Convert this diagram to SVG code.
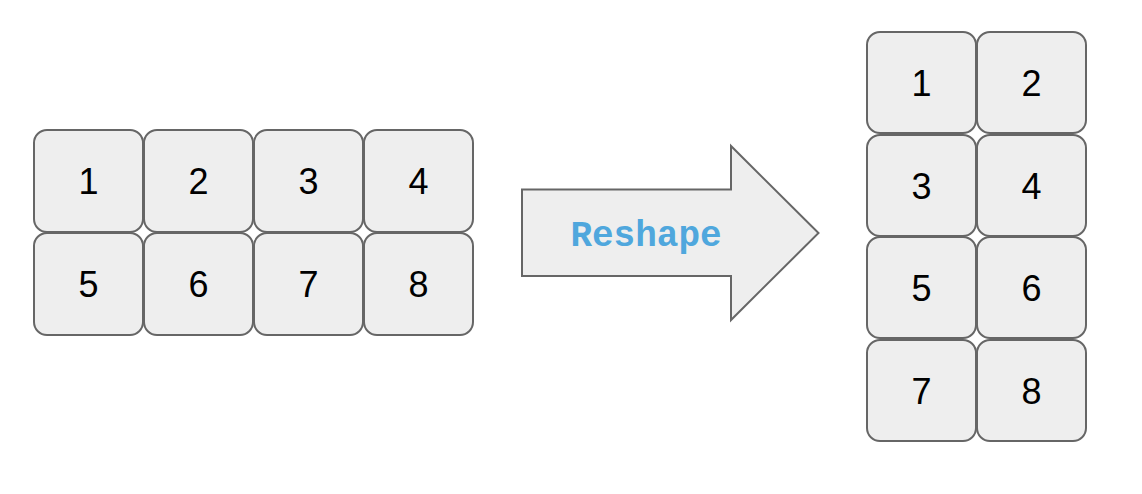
<svg xmlns="http://www.w3.org/2000/svg" width="1142" height="494" viewBox="0 0 1142 494">
<style>
.c{fill:#eeeeee;stroke:#666666;stroke-width:2}
.n{font-family:"Liberation Sans",Arial,sans-serif;font-size:36px;fill:#000;text-anchor:middle}
.lbl{font-family:"Liberation Mono","Courier New",monospace;font-size:36px;font-weight:bold;fill:#4fa7dd;text-anchor:middle}
</style>
<rect width="1142" height="494" fill="#ffffff"/>
<g id="left-grid">
<g id="l1"><rect class="c" x="34" y="130" width="109" height="102" rx="13"/><text class="n" x="88.5" y="194">1</text></g>
<g id="l2"><rect class="c" x="144" y="130" width="109" height="102" rx="13"/><text class="n" x="198.5" y="194">2</text></g>
<g id="l3"><rect class="c" x="254" y="130" width="109" height="102" rx="13"/><text class="n" x="308.5" y="194">3</text></g>
<g id="l4"><rect class="c" x="364" y="130" width="109" height="102" rx="13"/><text class="n" x="418.5" y="194">4</text></g>
<g id="l5"><rect class="c" x="34" y="233" width="109" height="102" rx="13"/><text class="n" x="88.5" y="297">5</text></g>
<g id="l6"><rect class="c" x="144" y="233" width="109" height="102" rx="13"/><text class="n" x="198.5" y="297">6</text></g>
<g id="l7"><rect class="c" x="254" y="233" width="109" height="102" rx="13"/><text class="n" x="308.5" y="297">7</text></g>
<g id="l8"><rect class="c" x="364" y="233" width="109" height="102" rx="13"/><text class="n" x="418.5" y="297">8</text></g>
</g>
<g id="arrow">
<polygon class="c" points="522,189.5 731,189.5 731,146 818.5,233 731,320 731,276 522,276"/>
<text class="lbl" x="646" y="246">Reshape</text>
</g>
<g id="right-grid">
<g id="r1"><rect class="c" x="867" y="32" width="109" height="101" rx="13"/><text class="n" x="921.5" y="96">1</text></g>
<g id="r2"><rect class="c" x="977" y="32" width="109" height="101" rx="13"/><text class="n" x="1031.5" y="96">2</text></g>
<g id="r3"><rect class="c" x="867" y="135" width="109" height="101" rx="13"/><text class="n" x="921.5" y="199">3</text></g>
<g id="r4"><rect class="c" x="977" y="135" width="109" height="101" rx="13"/><text class="n" x="1031.5" y="199">4</text></g>
<g id="r5"><rect class="c" x="867" y="237" width="109" height="101" rx="13"/><text class="n" x="921.5" y="301">5</text></g>
<g id="r6"><rect class="c" x="977" y="237" width="109" height="101" rx="13"/><text class="n" x="1031.5" y="301">6</text></g>
<g id="r7"><rect class="c" x="867" y="340" width="109" height="101" rx="13"/><text class="n" x="921.5" y="404">7</text></g>
<g id="r8"><rect class="c" x="977" y="340" width="109" height="101" rx="13"/><text class="n" x="1031.5" y="404">8</text></g>
</g>
</svg>
